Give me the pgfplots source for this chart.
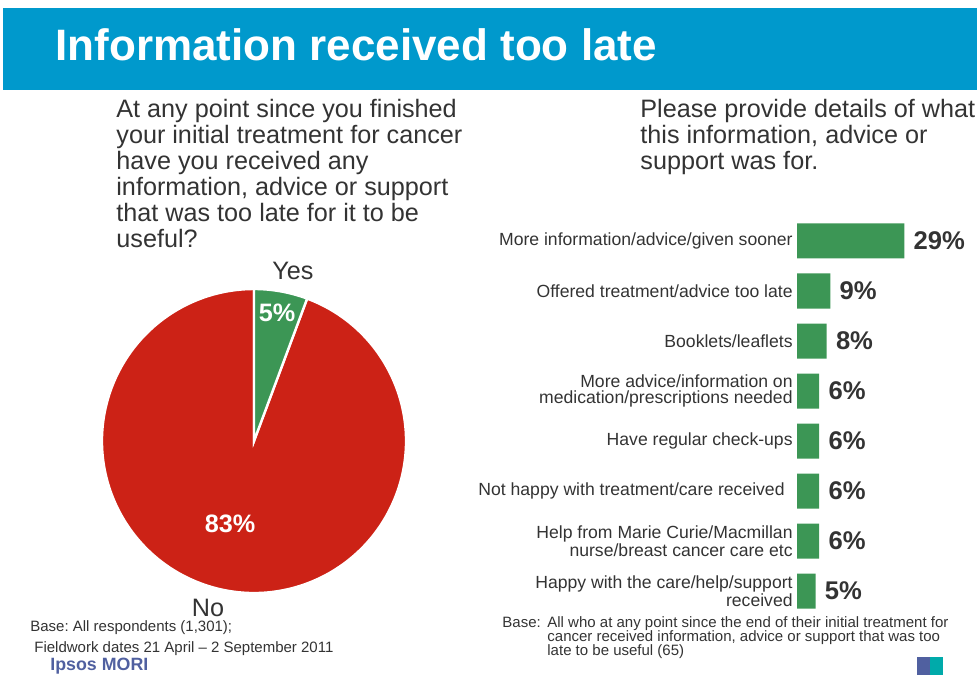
\documentclass[border=0pt]{standalone}
\usepackage{pgfplots}
\pgfplotsset{compat=1.18}
\usepackage{pgfplotstable}
\usepackage{fontspec}
\setmainfont{Liberation Sans}
\definecolor{banner}{RGB}{0,153,204}
\definecolor{pgreen}{RGB}{60,150,85}
\definecolor{pred}{RGB}{204,34,22}
\definecolor{txt}{RGB}{51,51,51}
\definecolor{ipsos}{RGB}{80,96,160}
\definecolor{ipsost}{RGB}{0,170,170}

% y = 7 is the top bar
\pgfplotstableread{
y v lab
7 29 29\%
6 9 9\%
5 8 8\%
4 6 6\%
3 6 6\%
2 6 6\%
1 6 6\%
0 5 5\%
}\bardata

\pgfplotstableread{
name v
Yes 5
No 83
}\piedata

\begin{document}
\begin{tikzpicture}[x=0.5pt,y=0.5pt]
\path[use as bounding box] (0,0) rectangle (977,675);
% banner
\fill[banner] (3,585) rectangle (977,667);
\node[anchor=west, text=white, inner sep=0pt, font=\fontsize{22}{22}\selectfont\bfseries] at (55,630) {Information received too late};

% questions
\begin{scope}[every node/.style={anchor=base west, inner sep=0pt, text=txt, font=\fontsize{12.6}{13}\selectfont}]
\node at (116,557) {At any point since you finished};
\node at (116,531) {your initial treatment for cancer};
\node at (116,505) {have you received any};
\node at (116,479) {information, advice or support};
\node at (116,453) {that was too late for it to be};
\node at (116,427) {useful?};
\node at (640,557) {Please provide details of what};
\node at (640,531) {this information, advice or};
\node at (640,505) {support was for.};
\end{scope}

% pie
\pgfplotstablegetelem{0}{v}\of\piedata \let\vyes\pgfplotsretval
\pgfplotstablegetelem{1}{v}\of\piedata \let\vno\pgfplotsretval
\pgfmathsetmacro{\ayes}{90-360*\vyes/(\vyes+\vno)}
\begin{axis}[at={(127pt,117pt)}, anchor=center, scale only axis, width=152pt, height=152pt,
  xmin=-1, xmax=1, ymin=-1, ymax=1, hide axis, clip=false]
\fill[pred, draw=white, line width=1.2pt] (axis cs:0,0) -- (axis cs:{cos(\ayes)},{sin(\ayes)}) arc[start angle=\ayes, end angle=-270, radius=76pt] -- cycle;
\fill[pgreen, draw=white, line width=1.2pt] (axis cs:0,0) -- (axis cs:0,1) arc[start angle=90, end angle=\ayes, radius=76pt] -- cycle;
\end{axis}
\node[anchor=base, inner sep=0pt, text=txt, font=\fontsize{12.6}{13}\selectfont] at (293,395) {Yes};
\node[anchor=base, inner sep=0pt, text=txt, font=\fontsize{12.6}{13}\selectfont] at (208,59) {No};
\node[inner sep=0pt, text=white, font=\fontsize{12.6}{13}\selectfont\bfseries] at (277,362) {5\%};
\node[inner sep=0pt, text=white, font=\fontsize{12.6}{13}\selectfont\bfseries] at (230,151) {83\%};

% bars
\begin{axis}[at={(398.5pt,29.5pt)}, anchor=south west, scale only axis, width=83.25pt, height=200pt,
  xbar, bar width=0.7, xmin=0, xmax=45, ymin=-0.5, ymax=7.5,
  axis line style={draw=none}, major tick length=0pt, xtick=\empty, ytick={0,...,7},
  yticklabels={{Happy with the care/help/support\\received},{Help from Marie Curie/Macmillan\\nurse/breast cancer care etc},{Not happy with treatment/care received\hspace{4pt}},{Have regular check-ups},{More advice/information on\\medication/prescriptions needed},{Booklets/leaflets},{Offered treatment/advice too late},{More information/advice/given sooner}},
  yticklabel style={align=right, font=\fontsize{8.8}{8}\selectfont, text=txt, inner sep=0pt, xshift=-2pt},
  nodes near coords, nodes near coords align={horizontal}, point meta=explicit symbolic,
  every node near coord/.append style={anchor=west, font=\fontsize{12.8}{13}\selectfont\bfseries, text=txt, inner sep=0pt, xshift=4.5pt},
  clip=false]
\addplot[fill=pgreen, draw=none] table[x=v, y=y, meta=lab] {\bardata};
\end{axis}

% footnotes
\begin{scope}[every node/.style={anchor=base west, inner sep=0pt, text=txt, font=\fontsize{7.5}{7.5}\selectfont}]
\node at (30,44) {Base:\ All respondents (1,301);};
\node at (34,23) {Fieldwork dates 21 April – 2 September 2011};
\node at (502,48) {Base:};
\node at (547,48) {All who at any point since the end of their initial treatment for};
\node at (547,33.5) {cancer received information, advice or support that was too};
\node at (547,19.5) {late to be useful (65)};
\end{scope}
\node[anchor=base west, inner sep=0pt, text=ipsos, font=\fontsize{8.9}{9}\selectfont\bfseries] at (50,5) {Ipsos MORI};
\fill[ipsos] (917,0) rectangle (930,18);
\fill[ipsost] (930,0) rectangle (943,18);
\end{tikzpicture}
\end{document}
